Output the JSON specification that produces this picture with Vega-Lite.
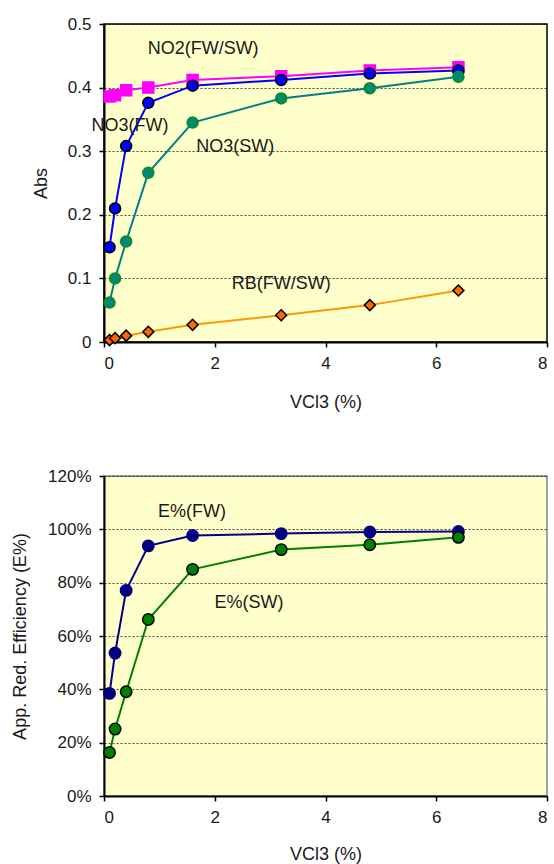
{
  "$schema": "https://vega.github.io/schema/vega-lite/v6.json",
  "background": "white",
  "padding": {"left": 10, "top": 14, "right": 0, "bottom": 0},
  "spacing": 54,
  "resolve": {"scale": {"color": "independent", "fill": "independent", "stroke": "independent", "shape": "independent"}},
  "datasets": {
    "abs": [
      {"series": "NO2(FW/SW)", "vcl3": 0.1, "abs": 0.386},
      {"series": "NO2(FW/SW)", "vcl3": 0.2, "abs": 0.388},
      {"series": "NO2(FW/SW)", "vcl3": 0.4, "abs": 0.396},
      {"series": "NO2(FW/SW)", "vcl3": 0.8, "abs": 0.400},
      {"series": "NO2(FW/SW)", "vcl3": 1.6, "abs": 0.412},
      {"series": "NO2(FW/SW)", "vcl3": 3.2, "abs": 0.418},
      {"series": "NO2(FW/SW)", "vcl3": 4.8, "abs": 0.427},
      {"series": "NO2(FW/SW)", "vcl3": 6.4, "abs": 0.432},
      {"series": "NO3(FW)", "vcl3": 0.1, "abs": 0.149},
      {"series": "NO3(FW)", "vcl3": 0.2, "abs": 0.210},
      {"series": "NO3(FW)", "vcl3": 0.4, "abs": 0.308},
      {"series": "NO3(FW)", "vcl3": 0.8, "abs": 0.376},
      {"series": "NO3(FW)", "vcl3": 1.6, "abs": 0.403},
      {"series": "NO3(FW)", "vcl3": 3.2, "abs": 0.412},
      {"series": "NO3(FW)", "vcl3": 4.8, "abs": 0.422},
      {"series": "NO3(FW)", "vcl3": 6.4, "abs": 0.427},
      {"series": "NO3(SW)", "vcl3": 0.1, "abs": 0.062},
      {"series": "NO3(SW)", "vcl3": 0.2, "abs": 0.100},
      {"series": "NO3(SW)", "vcl3": 0.4, "abs": 0.158},
      {"series": "NO3(SW)", "vcl3": 0.8, "abs": 0.266},
      {"series": "NO3(SW)", "vcl3": 1.6, "abs": 0.345},
      {"series": "NO3(SW)", "vcl3": 3.2, "abs": 0.383},
      {"series": "NO3(SW)", "vcl3": 4.8, "abs": 0.399},
      {"series": "NO3(SW)", "vcl3": 6.4, "abs": 0.417},
      {"series": "RB(FW/SW)", "vcl3": 0.1, "abs": 0.003},
      {"series": "RB(FW/SW)", "vcl3": 0.2, "abs": 0.006},
      {"series": "RB(FW/SW)", "vcl3": 0.4, "abs": 0.010},
      {"series": "RB(FW/SW)", "vcl3": 0.8, "abs": 0.016},
      {"series": "RB(FW/SW)", "vcl3": 1.6, "abs": 0.027},
      {"series": "RB(FW/SW)", "vcl3": 3.2, "abs": 0.042},
      {"series": "RB(FW/SW)", "vcl3": 4.8, "abs": 0.058},
      {"series": "RB(FW/SW)", "vcl3": 6.4, "abs": 0.081}
    ],
    "eff": [
      {"series": "E%(FW)", "vcl3": 0.1, "eff": 0.385},
      {"series": "E%(FW)", "vcl3": 0.2, "eff": 0.536},
      {"series": "E%(FW)", "vcl3": 0.4, "eff": 0.771},
      {"series": "E%(FW)", "vcl3": 0.8, "eff": 0.938},
      {"series": "E%(FW)", "vcl3": 1.6, "eff": 0.977},
      {"series": "E%(FW)", "vcl3": 3.2, "eff": 0.984},
      {"series": "E%(FW)", "vcl3": 4.8, "eff": 0.990},
      {"series": "E%(FW)", "vcl3": 6.4, "eff": 0.992},
      {"series": "E%(SW)", "vcl3": 0.1, "eff": 0.163},
      {"series": "E%(SW)", "vcl3": 0.2, "eff": 0.251},
      {"series": "E%(SW)", "vcl3": 0.4, "eff": 0.391},
      {"series": "E%(SW)", "vcl3": 0.8, "eff": 0.662},
      {"series": "E%(SW)", "vcl3": 1.6, "eff": 0.850},
      {"series": "E%(SW)", "vcl3": 3.2, "eff": 0.924},
      {"series": "E%(SW)", "vcl3": 4.8, "eff": 0.942},
      {"series": "E%(SW)", "vcl3": 6.4, "eff": 0.970}
    ]
  },
  "vconcat": [
    {
      "width": 443,
      "height": 318,
      "data": {"name": "abs"},
      "view": {"fill": "#FFFFCC", "stroke": "#000000", "strokeWidth": 1.5},
      "encoding": {
        "x": {"field": "vcl3", "type": "quantitative",
              "scale": {"domain": [0, 8], "nice": false, "zero": true},
              "axis": {"title": "VCl3 (%)", "values": [0, 2, 4, 6, 8], "format": "d", "grid": false, "titlePadding": 22}},
        "y": {"field": "abs", "type": "quantitative",
              "scale": {"domain": [0, 0.5], "nice": false},
              "axis": {"title": "Abs", "values": [0, 0.1, 0.2, 0.3, 0.4, 0.5], "format": "~g", "titlePadding": 17}}
      },
      "layer": [
        {
          "mark": {"type": "line", "strokeWidth": 2},
          "encoding": {
            "color": {"field": "series", "type": "nominal", "legend": null,
                      "scale": {"domain": ["NO2(FW/SW)", "NO3(FW)", "NO3(SW)", "RB(FW/SW)"],
                                "range": ["#FF00FF", "#0000FF", "#008080", "#FF9900"]}}
          }
        },
        {
          "mark": {"type": "point", "filled": true, "opacity": 1, "strokeWidth": 1.5, "size": 121},
          "encoding": {
            "shape": {"field": "series", "type": "nominal", "legend": null,
                      "scale": {"domain": ["NO2(FW/SW)", "NO3(FW)", "NO3(SW)", "RB(FW/SW)"],
                                "range": ["square", "circle", "circle", "diamond"]}},
            "fill": {"field": "series", "type": "nominal", "legend": null,
                     "scale": {"domain": ["NO2(FW/SW)", "NO3(FW)", "NO3(SW)", "RB(FW/SW)"],
                               "range": ["#FF00FF", "#0000FF", "#008878", "#FF6600"]}},
            "stroke": {"field": "series", "type": "nominal", "legend": null,
                       "scale": {"domain": ["NO2(FW/SW)", "NO3(FW)", "NO3(SW)", "RB(FW/SW)"],
                                 "range": ["#FF00FF", "#000000", "#118C11", "#000000"]}}
          }
        },
        {
          "transform": [{"filter": {"and": [{"field": "series", "equal": "NO2(FW/SW)"}, {"field": "vcl3", "equal": 6.4}]}}],
          "mark": {"type": "text", "fontSize": 18, "color": "#1a1a1a"},
          "encoding": {"x": {"datum": 1.79, "type": "quantitative"}, "y": {"datum": 0.46, "type": "quantitative"}, "text": {"field": "series"}}
        },
        {
          "transform": [{"filter": {"and": [{"field": "series", "equal": "NO3(FW)"}, {"field": "vcl3", "equal": 6.4}]}}],
          "mark": {"type": "text", "fontSize": 18, "color": "#1a1a1a"},
          "encoding": {"x": {"datum": 0.47, "type": "quantitative"}, "y": {"datum": 0.339, "type": "quantitative"}, "text": {"field": "series"}}
        },
        {
          "transform": [{"filter": {"and": [{"field": "series", "equal": "NO3(SW)"}, {"field": "vcl3", "equal": 6.4}]}}],
          "mark": {"type": "text", "fontSize": 18, "color": "#1a1a1a"},
          "encoding": {"x": {"datum": 2.37, "type": "quantitative"}, "y": {"datum": 0.306, "type": "quantitative"}, "text": {"field": "series"}}
        },
        {
          "transform": [{"filter": {"and": [{"field": "series", "equal": "RB(FW/SW)"}, {"field": "vcl3", "equal": 6.4}]}}],
          "mark": {"type": "text", "fontSize": 18, "color": "#1a1a1a"},
          "encoding": {"x": {"datum": 3.2, "type": "quantitative"}, "y": {"datum": 0.091, "type": "quantitative"}, "text": {"field": "series"}}
        }
      ]
    },
    {
      "width": 443,
      "height": 320,
      "data": {"name": "eff"},
      "view": {"fill": "#FFFFCC", "stroke": "#808080", "strokeWidth": 1.5},
      "encoding": {
        "x": {"field": "vcl3", "type": "quantitative",
              "scale": {"domain": [0, 8], "nice": false, "zero": true},
              "axis": {"title": "VCl3 (%)", "values": [0, 2, 4, 6, 8], "format": "d", "grid": false, "titlePadding": 20}},
        "y": {"field": "eff", "type": "quantitative",
              "scale": {"domain": [0, 1.2], "nice": false},
              "axis": {"title": "App. Red. Efficiency (E%)", "values": [0, 0.2, 0.4, 0.6, 0.8, 1.0, 1.2], "format": ".0%", "titlePadding": 18}}
      },
      "layer": [
        {
          "mark": {"type": "line", "strokeWidth": 2},
          "encoding": {
            "color": {"field": "series", "type": "nominal", "legend": null,
                      "scale": {"domain": ["E%(FW)", "E%(SW)"], "range": ["#000080", "#008000"]}}
          }
        },
        {
          "mark": {"type": "point", "shape": "circle", "filled": true, "opacity": 1, "strokeWidth": 1.5, "size": 130},
          "encoding": {
            "fill": {"field": "series", "type": "nominal", "legend": null,
                     "scale": {"domain": ["E%(FW)", "E%(SW)"], "range": ["#000080", "#008000"]}},
            "stroke": {"field": "series", "type": "nominal", "legend": null,
                       "scale": {"domain": ["E%(FW)", "E%(SW)"], "range": ["#000080", "#000000"]}}
          }
        },
        {
          "transform": [{"filter": {"and": [{"field": "series", "equal": "E%(FW)"}, {"field": "vcl3", "equal": 6.4}]}}],
          "mark": {"type": "text", "fontSize": 18, "color": "#1a1a1a"},
          "encoding": {"x": {"datum": 1.59, "type": "quantitative"}, "y": {"datum": 1.065, "type": "quantitative"}, "text": {"field": "series"}}
        },
        {
          "transform": [{"filter": {"and": [{"field": "series", "equal": "E%(SW)"}, {"field": "vcl3", "equal": 6.4}]}}],
          "mark": {"type": "text", "fontSize": 18, "color": "#1a1a1a"},
          "encoding": {"x": {"datum": 2.62, "type": "quantitative"}, "y": {"datum": 0.724, "type": "quantitative"}, "text": {"field": "series"}}
        }
      ]
    }
  ],
  "config": {
    "font": "Liberation Sans",
    "axis": {
      "domainColor": "#000000",
      "domainWidth": 2,
      "tickColor": "#000000",
      "tickWidth": 1.5,
      "tickSize": 5,
      "labelFontSize": 17,
      "labelColor": "#1a1a1a",
      "labelPadding": 8,
      "titleFontSize": 18,
      "titleFontWeight": "normal",
      "titleColor": "#1a1a1a",
      "gridColor": "#000000",
      "gridDash": [2, 2],
      "gridWidth": 0.8,
      "gridOpacity": 0.9
    },
    "axisY": {"labelPadding": 8}
  }
}
